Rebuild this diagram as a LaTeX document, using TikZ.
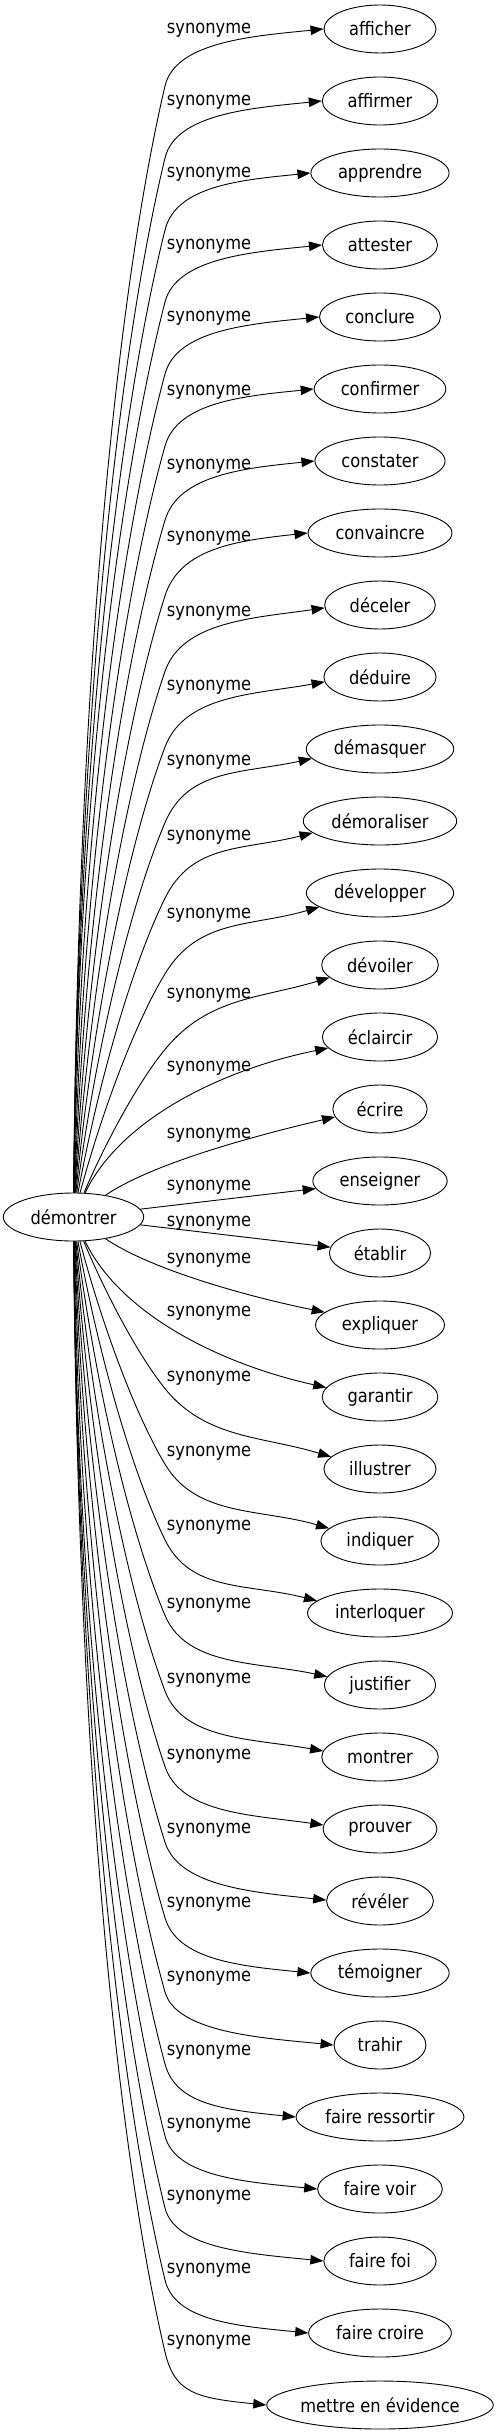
\documentclass[tikz,border=0pt]{standalone}
\usepackage{fontspec}
\setmainfont{DejaVu Sans}[FakeStretch=0.88]
\usetikzlibrary{arrows.meta,calc,shapes.geometric}
\begin{document}
\begin{tikzpicture}[x=1pt,y=-1pt,
  word/.style={draw, ellipse, inner sep=0pt, minimum height=48pt, line width=0.9pt},
  lbl/.style={inner sep=0pt},
  edge/.style={line width=0.9pt, -{Triangle[length=13pt,width=9.5pt]}}]
\fontsize{18.5pt}{22pt}\selectfont
\useasboundingbox (0,0) rectangle (498,2435);
\pgfmathsetmacro\w{1.172*width("démontrer")+39.7}
\node[word, minimum width=\w pt] (src) at (73.5,1217) {démontrer};
\foreach \i/\word in {1/afficher,2/affirmer,3/apprendre,4/attester,5/conclure,6/confirmer,7/constater,8/convaincre,9/déceler,10/déduire,11/démasquer,12/démoraliser,13/développer,14/dévoiler,15/éclaircir,16/écrire,17/enseigner,18/établir,19/expliquer,20/garantir,21/illustrer,22/indiquer,23/interloquer,24/justifier,25/montrer,26/prouver,27/révéler,28/témoigner,29/trahir,30/faire ressortir,31/faire voir,32/faire foi,33/faire croire,34/mettre en évidence}{
  \pgfmathsetmacro\ty{29+72*(\i-1)}
  \pgfmathsetmacro\w{1.172*width("\word")+39.7}
  \node[word, minimum width=\w pt] (t\i) at (380,\ty) {\word};
}
\foreach \i/\ly in {1/30,2/102,3/174,4/246,5/318.7,6/392.6,7/465.8,8/538.5,9/613,10/687,11/762,12/837,13/915,14/995,15/1068,16/1135,17/1187,18/1223,19/1260,20/1313,21/1378,22/1453,23/1527,24/1605,25/1680,26/1756,27/1830,28/1904.5,29/1978,30/2052,31/2125,32/2197,33/2270,34/2342}{
  \node[lbl] (l\i) at (209,\ly) {synonyme};
}
\foreach \i in {1,...,14,21,22,...,34}{
  \pgfmathsetmacro\ty{29+72*(\i-1)}
  \pgfmathsetmacro\s{\i<18 ? -1 : 1}
  \pgfmathsetmacro\d{abs(\ty-1217)}
  \pgfmathsetmacro\m{(\i<18 ? 57 : 53)+0.05*max(0,800-\d)}
  \pgfmathsetmacro\wy{\ty-(\s)*\m}
  \pgfmathsetmacro\D{\wy-1217}
  \pgfmathsetmacro\aD{abs(\D)}
  \pgfmathsetmacro\h{22+0.025*\aD}
  \pgfmathsetmacro\Ax{73.5+max(4,40-0.04*\aD)}
  \pgfmathsetmacro\Ay{1217+0.46*\D}
  \pgfmathsetmacro\Bx{165-\h}
  \pgfmathsetmacro\By{\wy-0.19*\D}
  \pgfmathsetmacro\nrm{10*sqrt((\h/10)^2+(0.019*\D)^2)}
  \pgfmathsetmacro\L{0.8*\m}
  \pgfmathsetmacro\Cx{165+\L*(\h/\nrm)}
  \pgfmathsetmacro\Cy{\wy+\L*(0.19*\D/\nrm)}
  \pgfmathsetmacro\f{min(1,max(0,(700-\d)/400))}
  \pgfmathtruncatemacro\ang{180-(\s)*14*\f}
  \pgfmathsetmacro\k{0.1+0.2*\f}
  \pgfmathsetmacro\Dy{-(\s)*70*\k}
  \draw[edge] (src) .. controls (\Ax,\Ay) and (\Bx,\By) .. (165,\wy)
     .. controls (\Cx,\Cy) and ($(t\i.\ang)+(-70,\Dy)$) .. (t\i.\ang);
}
\draw[edge] (src) .. controls (120,1120) and (220,1070) .. (t15.192);
\draw[edge] (src) .. controls (150,1165) and (245,1138) .. (t16.190);
\draw[edge] (src) -- (t17);
\draw[edge] (src) -- (t18);
\draw[edge] (src) .. controls (150,1269) and (245,1296) .. (t19.167);
\draw[edge] (src) .. controls (120,1314) and (220,1364) .. (t20.170);
\end{tikzpicture}
\end{document}
